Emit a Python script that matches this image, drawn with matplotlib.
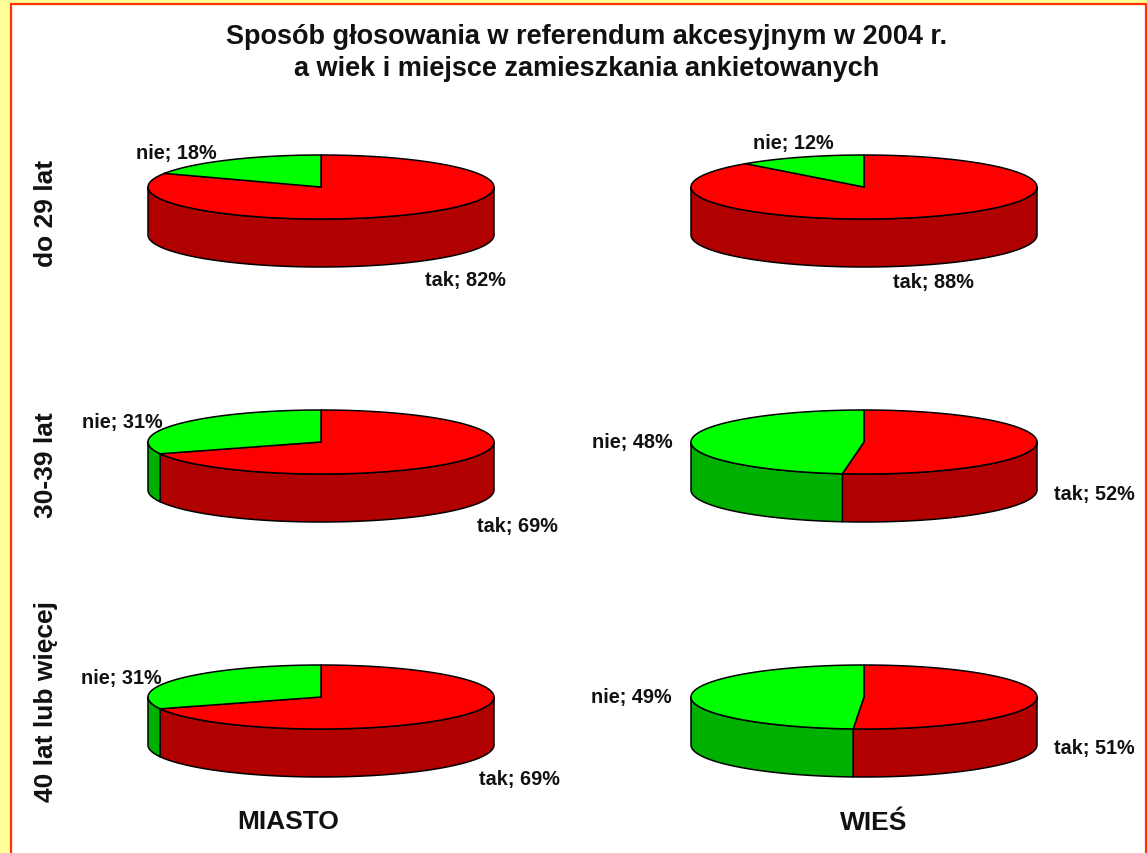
import numpy as np
import matplotlib
matplotlib.use("Agg")
import matplotlib.pyplot as plt
from matplotlib.patches import Polygon, Rectangle

plt.rcParams['font.family'] = ['Liberation Sans', 'DejaVu Sans']

# dane
miejsce = ["MIASTO", "WIEŚ"]
wiek = ["do 29 lat", "30-39 lat", "40 lat lub więcej"]
tak_miasto = [82, 69, 69]
nie_miasto = [18, 31, 31]
tak_wies = [88, 52, 51]
nie_wies = [12, 48, 49]

# uklad w pikselach
kol_x = [321, 864]
wiersz_y = [188, 443, 698]
rx, ry, glebokosc = 173, 32, 48
tak_xy = [[(465, 281), (933, 283)], [(517, 527), (1094, 495)], [(519, 780), (1094, 749)]]
nie_xy = [[(176, 153), (793, 144)], [(122, 423), (632, 443)], [(121, 679), (631, 698)]]
wiek_y = [213, 465, 702]
miejsce_xy = [(288, 822), (874, 823)]

CZERWONY, CIEMNY_CZERWONY = "#ff0000", "#b00000"
ZIELONY, CIEMNY_ZIELONY = "#00ff00", "#00b000"


def brzeg(cx, cy, t0, t1):
    # kat liczony od gory zgodnie z ruchem wskazowek
    t = np.radians(np.linspace(t0, t1, 150))
    return cx + rx * np.sin(t), cy - ry * np.cos(t)


def bok(ax, cx, cy, t0, t1, kolor):
    t0, t1 = max(t0, 90), min(t1, 270)
    if t1 <= t0:
        return
    x, y = brzeg(cx, cy, t0, t1)
    xy = np.r_[np.c_[x, y], np.c_[x[::-1], y[::-1] + glebokosc]]
    ax.add_patch(Polygon(xy, fc=kolor, ec="black", lw=1.1, joinstyle="round"))


def wycinek(ax, cx, cy, t0, t1, kolor):
    x, y = brzeg(cx, cy, t0, t1)
    xy = np.r_[[[cx, cy]], np.c_[x, y]]
    ax.add_patch(Polygon(xy, fc=kolor, ec="black", lw=1.1, joinstyle="round"))


def placek(ax, cx, cy, tak, nie):
    kat = 360 * tak / (tak + nie)
    bok(ax, cx, cy, 0, kat, CIEMNY_CZERWONY)
    bok(ax, cx, cy, kat, 360, CIEMNY_ZIELONY)
    wycinek(ax, cx, cy, 0, kat, CZERWONY)
    wycinek(ax, cx, cy, kat, 360, ZIELONY)


fig = plt.figure(figsize=(11.47, 8.54), dpi=100, facecolor="#ffff99")
ax = fig.add_axes([0, 0, 1, 1])
ax.set_xlim(0, 1147)
ax.set_ylim(854, 0)
ax.axis("off")

ax.add_patch(Rectangle((11, 5), 1134.5, 860, fc="white", ec="#ff3300", lw=1.6))

ax.text(587, 37, "Sposób głosowania w referendum akcesyjnym w 2004 r.",
        fontsize=19.5, fontweight="bold", ha="center", va="center", color="#111111")
ax.text(587, 69, "a wiek i miejsce zamieszkania ankietowanych",
        fontsize=19.5, fontweight="bold", ha="center", va="center", color="#111111")

for k, (tak_kol, nie_kol) in enumerate([(tak_miasto, nie_miasto), (tak_wies, nie_wies)]):
    for w in range(len(wiek)):
        placek(ax, kol_x[k], wiersz_y[w], tak_kol[w], nie_kol[w])
        ax.text(*tak_xy[w][k], f"tak; {tak_kol[w]}%", fontsize=14.3, fontweight="bold",
                ha="center", va="center", color="#111111")
        ax.text(*nie_xy[w][k], f"nie; {nie_kol[w]}%", fontsize=14.3, fontweight="bold",
                ha="center", va="center", color="#111111")

for w, nazwa in enumerate(wiek):
    ax.text(46, wiek_y[w], nazwa, rotation=90, fontsize=19, fontweight="bold",
            ha="center", va="center", color="#111111")

for k, nazwa in enumerate(miejsce):
    ax.text(*miejsce_xy[k], nazwa, fontsize=19, fontweight="bold",
            ha="center", va="center", color="#111111")

fig.savefig("out.png", dpi=100, facecolor=fig.get_facecolor())
